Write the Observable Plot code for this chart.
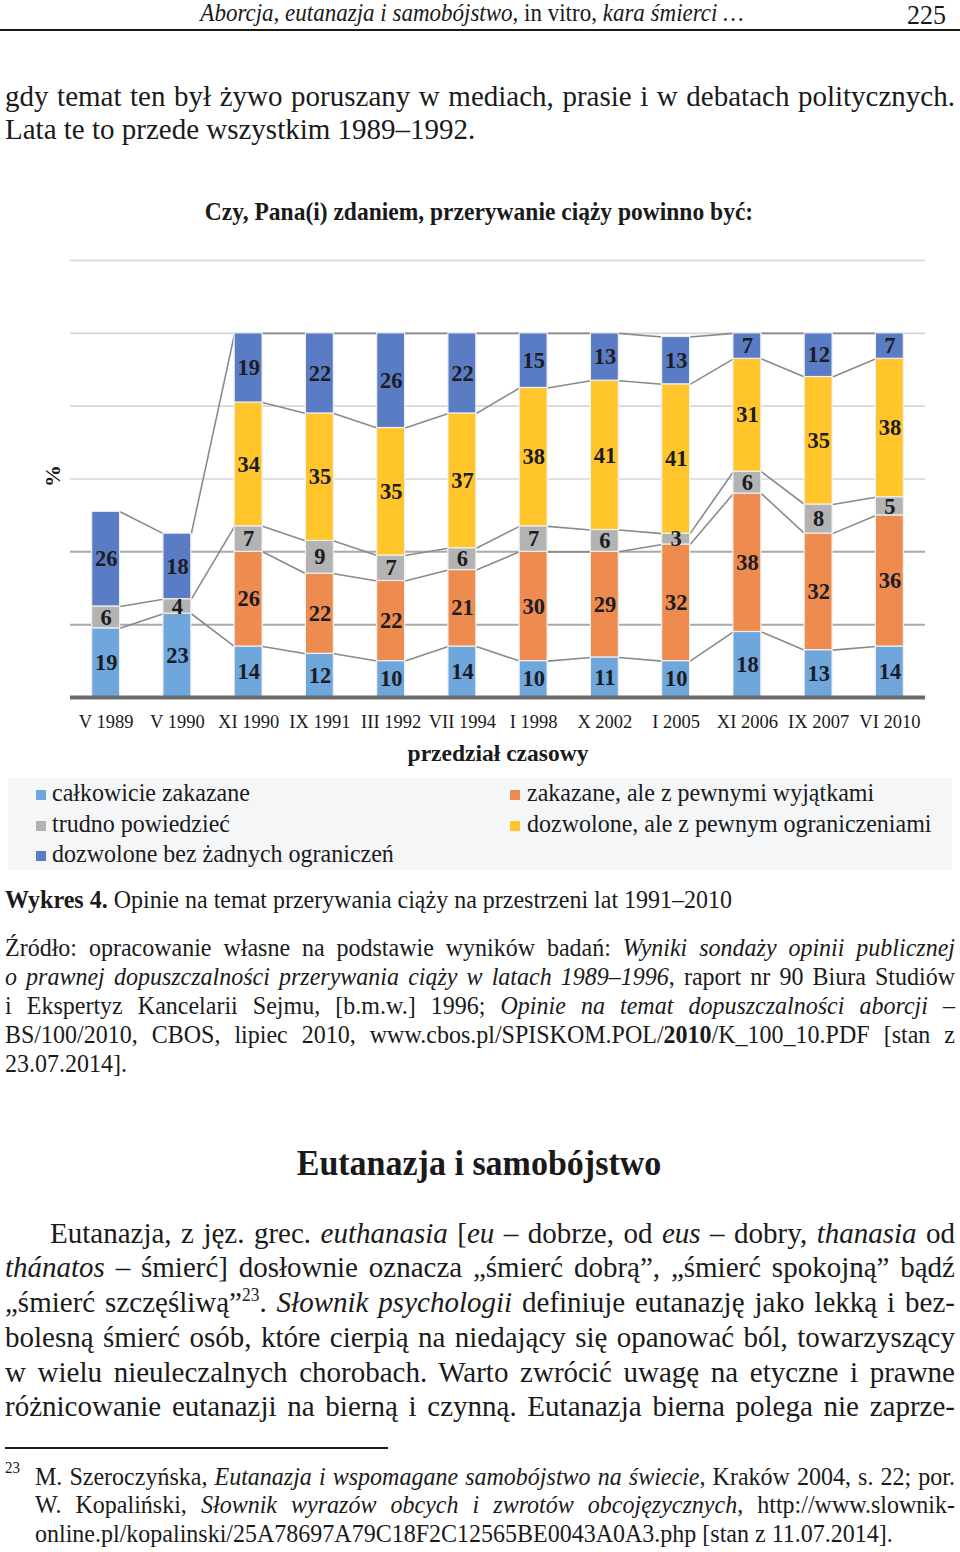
<!DOCTYPE html>
<html>
<head>
<meta charset="utf-8">
<script src="https://cdn.jsdelivr.net/npm/d3@7"></script>
<script src="https://cdn.jsdelivr.net/npm/@observablehq/plot@0.6"></script>
<style>
html, body { margin: 0; padding: 0; background: #fff; }
#page { position: relative; width: 960px; height: 1552px; overflow: hidden;
  font-family: "Liberation Serif", "Times New Roman", serif; color: #1a1a1a; }
.ln { position: absolute; }
.sup { position: relative; top: -0.55em; font-size: 0.6em; }
#chart { position: absolute; left: 0; top: 240px; }
#legend { position: absolute; left: 8px; top: 778px; width: 944px; height: 92px; background: #f5f6f8; }
.mk { position: absolute; width: 10px; height: 10px; }
</style>
</head>
<body>
<div id="page">
  <div id="chart"></div>
  <div id="legend"></div>
</div>
<script>
// ---------------- data ----------------
const timeLabels = ["V 1989", "V 1990", "XI 1990", "IX 1991", "III 1992", "VII 1994",
                    "I 1998", "X 2002", "I 2005", "XI 2006", "IX 2007", "VI 2010"];

// series in stacking order (bottom -> top)
const seriesNames = [
  "całkowicie zakazane",
  "zakazane, ale z pewnymi wyjątkami",
  "trudno powiedzieć",
  "dozwolone, ale z pewnym ograniczeniami",
  "dozwolone bez żadnych ograniczeń"
];
const seriesColors = ["#6fa6dc", "#ee8b4e", "#b3b3b3", "#ffc52b", "#5a7cc5"];

const calkowicieZakazane       = [19, 23, 14, 12, 10, 14, 10, 11, 10, 18, 13, 14];
const zakazaneZWyjatkami       = [null, null, 26, 22, 22, 21, 30, 29, 32, 38, 32, 36];
const trudnoPowiedziec         = [6, 4, 7, 9, 7, 6, 7, 6, 3, 6, 8, 5];
const dozwoloneZOgraniczeniami = [null, null, 34, 35, 35, 37, 38, 41, 41, 31, 35, 38];
const dozwoloneBezOgraniczen   = [26, 18, 19, 22, 26, 22, 15, 13, 13, 7, 12, 7];

const gridValues = [20, 40, 60, 80, 100, 120];

// legend order as shown
const legendLeft  = [0, 2, 4];
const legendRight = [1, 3];

// ---------------- build tables ----------------
const seriesValues = [calkowicieZakazane, zakazaneZWyjatkami, trudnoPowiedziec,
                      dozwoloneZOgraniczeniami, dozwoloneBezOgraniczen];

const segments = [];
const tops = seriesValues.map(() => []);   // cumulative top of each series per bar
timeLabels.forEach((lab, i) => {
  let acc = 0;
  seriesValues.forEach((vals, s) => {
    const v = vals[i];
    if (v == null) { tops[s][i] = null; return; }
    segments.push({ i, series: seriesNames[s], value: v, y1: acc, y2: acc + v });
    acc += v;
    tops[s][i] = acc;
  });
});

const HW = 0.196; // half bar width in band units
const links = [];
tops.forEach((t, s) => {
  for (let i = 0; i < t.length - 1; i++) {
    if (t[i] != null && t[i + 1] != null) {
      links.push({ x1: i + HW, y1: t[i], x2: i + 1 - HW, y2: t[i + 1] });
    }
  }
});

// ---------------- chart ----------------
const chart = Plot.plot({
  width: 960,
  height: 530,
  marginLeft: 70,
  marginRight: 35,
  marginTop: 20,
  marginBottom: 73,
  style: { fontFamily: "Liberation Serif, Times New Roman, serif", fontSize: "18.5px",
           color: "#1a1a1a", background: "transparent" },
  x: { domain: [-0.5, 11.5], ticks: d3.range(timeLabels.length),
       tickFormat: i => timeLabels[i], tickSize: 0, tickPadding: 17, label: null },
  y: { domain: [0, 120], axis: null },
  color: { domain: seriesNames, range: seriesColors },
  marks: [
    Plot.ruleY(gridValues, { stroke: d => d <= 40 ? "#a9a9a9" : "#d6d6d6",
                             strokeWidth: d => d <= 40 ? 2 : 1.6 }),
    Plot.link(links, { x1: "x1", y1: "y1", x2: "x2", y2: "y2", stroke: "#8a8a8a", strokeWidth: 1.6 }),
    Plot.rectY(segments, { x1: d => d.i - HW, x2: d => d.i + HW, y1: "y1", y2: "y2",
                           fill: "series", stroke: "#efefef", strokeWidth: 1.2 }),
    Plot.text(segments, { x: "i", y: d => (d.y1 + d.y2) / 2, text: d => String(d.value),
                          fontSize: 22.5, fontWeight: "bold", fill: "#1c1c24" }),
    Plot.ruleY([0], { stroke: "#6b6b6b", strokeWidth: 4 }),
    Plot.text(["%"], { frameAnchor: "left", dx: -18, dy: 8, rotate: -90, fontSize: 22,
                       fontWeight: "bold", fill: "#1a1a1a" }),
    Plot.text(["przedział czasowy"], { frameAnchor: "bottom", dy: 56, lineAnchor: "middle",
                       fontSize: 23.5, fontWeight: "bold", fill: "#1a1a1a" })
  ]
});
document.getElementById("chart").appendChild(chart);

// ---------------- page text ----------------
const S = 1.05; // slight vertical stretch of the scanned page
const page = document.getElementById("page");
function addLine(html, o) {
  const d = document.createElement("div");
  d.className = "ln";
  const size = o.size;
  const asc = 0.8375 * size;
  d.style.left = (o.left || 0) + "px";
  d.style.top = (o.baseline - asc) + "px";
  d.style.fontSize = size + "px";
  d.style.lineHeight = size + "px";
  d.style.transformOrigin = `0 ${asc}px`;
  d.style.transform = `scaleY(${S})`;
  if (o.width) d.style.width = o.width + "px";
  if (o.align === "justify") { d.style.textAlign = "justify"; d.style.textAlignLast = "justify"; }
  else { d.style.whiteSpace = "nowrap"; if (o.align) d.style.textAlign = o.align; }
  if (o.bold) d.style.fontWeight = "bold";
  d.innerHTML = html;
  page.appendChild(d);
  return d;
}
function addRule(left, top, width, height) {
  const d = document.createElement("div");
  Object.assign(d.style, { position: "absolute", left: left + "px", top: top + "px",
    width: width + "px", height: height + "px", background: "#1a1a1a" });
  page.appendChild(d);
}

// running head
addLine("<i>Aborcja, eutanazja i samobójstwo,</i> in vitro, <i>kara śmierci …</i>",
        { left: 0, width: 944, baseline: 21, size: 23, align: "center" });
addLine("225", { left: 840, width: 106, baseline: 25, size: 26, align: "right" });
addRule(0, 29, 960, 2);

// text above chart
addLine("gdy temat ten był żywo poruszany w mediach, prasie i w debatach politycznych.",
        { left: 5, width: 950, baseline: 106, size: 29, align: "justify" });
addLine("Lata te to przede wszystkim 1989–1992.", { left: 5, baseline: 139, size: 29 });

// chart title
addLine("Czy, Pana(i) zdaniem, przerywanie ciąży powinno być:",
        { left: 0, width: 958, baseline: 221, size: 23.5, bold: true, align: "center" });

// legend
const legend = document.getElementById("legend");
function legendItem(s, col, row) {
  const rowsBase = [23, 54, 84]; // baselines relative to legend box
  const mx = col === 0 ? 28 : 502;
  const tx = col === 0 ? 44 : 519;
  const mk = document.createElement("div");
  mk.className = "mk";
  mk.style.left = mx + "px";
  mk.style.top = (rowsBase[row] - 11) + "px";
  mk.style.background = seriesColors[s];
  legend.appendChild(mk);
  return addLine(seriesNames[s], { left: tx + 8, baseline: 778 + rowsBase[row], size: 24 });
}
legendLeft.forEach((s, r) => legendItem(s, 0, r));
legendRight.forEach((s, r) => legendItem(s, 1, r));

// caption & source
addLine("<b>Wykres 4.</b> Opinie na temat przerywania ciąży na przestrzeni lat 1991–2010",
        { left: 5, baseline: 908, size: 24 });
addLine("Źródło: opracowanie własne na podstawie wyników badań: <i>Wyniki sondaży opinii publicznej</i>",
        { left: 5, width: 950, baseline: 956, size: 24, align: "justify" });
addLine("<i>o prawnej dopuszczalności przerywania ciąży w latach 1989–1996</i>, raport nr 90 Biura Studiów",
        { left: 5, width: 950, baseline: 985, size: 24, align: "justify" });
addLine("i Ekspertyz Kancelarii Sejmu, [b.m.w.] 1996; <i>Opinie na temat dopuszczalności aborcji</i> –",
        { left: 5, width: 950, baseline: 1014, size: 24, align: "justify" });
addLine("BS/100/2010, CBOS, lipiec 2010, www.cbos.pl/SPISKOM.POL/<b>2010</b>/K_100_10.PDF [stan z",
        { left: 5, width: 950, baseline: 1043, size: 24, align: "justify" });
addLine("23.07.2014].", { left: 5, baseline: 1072, size: 24 });

// section heading
addLine("Eutanazja i samobójstwo",
        { left: 0, width: 958, baseline: 1175, size: 34, bold: true, align: "center" });

// paragraph
addLine("Eutanazja, z jęz. grec. <i>euthanasia</i> [<i>eu</i> – dobrze, od <i>eus</i> – dobry, <i>thanasia</i> od",
        { left: 50, width: 905, baseline: 1243, size: 29, align: "justify" });
addLine("<i>thánatos</i> – śmierć] dosłownie oznacza „śmierć dobrą”, „śmierć spokojną” bądź",
        { left: 5, width: 950, baseline: 1277, size: 29, align: "justify" });
addLine("„śmierć szczęśliwą”<span class=\"sup\">23</span>. <i>Słownik psychologii</i> definiuje eutanazję jako lekką i bez-",
        { left: 5, width: 950, baseline: 1312, size: 29, align: "justify" });
addLine("bolesną śmierć osób, które cierpią na niedający się opanować ból, towarzyszący",
        { left: 5, width: 950, baseline: 1347, size: 29, align: "justify" });
addLine("w wielu nieuleczalnych chorobach. Warto zwrócić uwagę na etyczne i prawne",
        { left: 5, width: 950, baseline: 1382, size: 29, align: "justify" });
addLine("różnicowanie eutanazji na bierną i czynną. Eutanazja bierna polega nie zaprze-",
        { left: 5, width: 950, baseline: 1416, size: 29, align: "justify" });

// footnote
addRule(5, 1447, 383, 1.6);
addLine("23", { left: 5, baseline: 1474, size: 15 });
addLine("M. Szeroczyńska, <i>Eutanazja i wspomagane samobójstwo na świecie</i>, Kraków 2004, s. 22; por.",
        { left: 35, width: 920, baseline: 1485, size: 24, align: "justify" });
addLine("W. Kopaliński, <i>Słownik wyrazów obcych i zwrotów obcojęzycznych</i>, http://www.slownik-",
        { left: 35, width: 920, baseline: 1513, size: 24, align: "justify" });
addLine("online.pl/kopalinski/25A78697A79C18F2C12565BE0043A0A3.php [stan z 11.07.2014].",
        { left: 35, baseline: 1542, size: 24 });
</script>
</body>
</html>
